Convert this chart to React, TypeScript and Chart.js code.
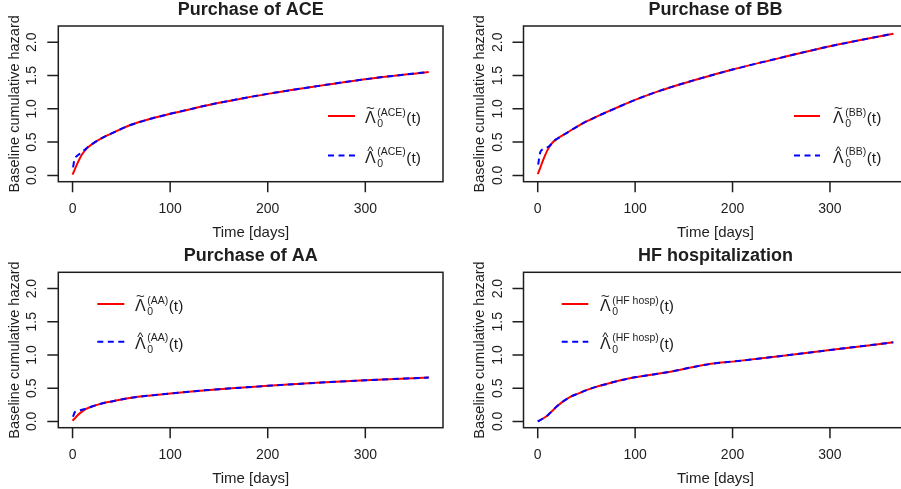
import React, { useEffect, useRef } from "react";
import { Chart, registerables } from "chart.js";

Chart.register(...registerables);

// ---------- data ----------
const xTickValues = [0, 100, 200, 300];
const yTickValues = [0, 0.5, 1.0, 1.5, 2.0];
const yTickLabels = ["0.0", "0.5", "1.0", "1.5", "2.0"];

const tildeTimes = [0, 2, 5, 10, 15, 20, 30, 40, 50, 60, 80, 100, 125, 150, 175, 200, 250, 300, 365];
const hatTimes = [0.5, 2, 3, 5, 8, 12, 16, 20, 30, 40, 50, 60, 80, 100, 125, 150, 175, 200, 250, 300, 365];

const aceTilde = [0.01, 0.08, 0.18, 0.32, 0.41, 0.47, 0.56, 0.63, 0.70, 0.76, 0.85, 0.925, 1.01, 1.09, 1.16, 1.225, 1.34, 1.445, 1.555];
const aceHat = [0.12, 0.24, 0.27, 0.30, 0.33, 0.38, 0.43, 0.47, 0.56, 0.63, 0.70, 0.76, 0.85, 0.925, 1.01, 1.09, 1.16, 1.225, 1.34, 1.445, 1.555];

const bbTilde = [0.02, 0.09, 0.21, 0.38, 0.49, 0.55, 0.64, 0.73, 0.81, 0.88, 1.01, 1.135, 1.27, 1.385, 1.49, 1.59, 1.77, 1.94, 2.13];
const bbHat = [0.16, 0.31, 0.36, 0.39, 0.41, 0.44, 0.51, 0.55, 0.64, 0.73, 0.81, 0.88, 1.01, 1.135, 1.27, 1.385, 1.49, 1.59, 1.77, 1.94, 2.13];

const aaTilde = [0.01, 0.04, 0.09, 0.15, 0.195, 0.225, 0.27, 0.30, 0.33, 0.355, 0.39, 0.42, 0.455, 0.485, 0.51, 0.535, 0.58, 0.62, 0.66];
const aaHat = [0.07, 0.13, 0.15, 0.16, 0.17, 0.185, 0.205, 0.225, 0.27, 0.30, 0.33, 0.355, 0.39, 0.42, 0.455, 0.485, 0.51, 0.535, 0.58, 0.62, 0.66];

const hfTimes = [0, 5, 10, 15, 20, 25, 30, 35, 40, 50, 60, 70, 80, 90, 100, 120, 140, 160, 180, 200, 250, 300, 365];
const hfTilde = [0.0, 0.04, 0.09, 0.16, 0.23, 0.29, 0.34, 0.38, 0.41, 0.47, 0.52, 0.56, 0.60, 0.635, 0.665, 0.71, 0.76, 0.82, 0.87, 0.90, 0.985, 1.075, 1.19];
const hfHat = [0.0, 0.04, 0.09, 0.16, 0.23, 0.29, 0.34, 0.38, 0.41, 0.47, 0.52, 0.56, 0.60, 0.635, 0.665, 0.71, 0.76, 0.82, 0.87, 0.90, 0.985, 1.075, 1.19];

const titles = ["Purchase of ACE", "Purchase of BB", "Purchase of AA", "HF hospitalization"];
const supLabels = ["(ACE)", "(BB)", "(AA)", "(HF hosp)"];
const xAxisTitle = "Time [days]";
const yAxisTitle = "Baseline cumulative hazard";

// ---------- layout / style ----------
const FONT = '"Liberation Sans", Arial, Helvetica, sans-serif';
const INK = "#1e1e1e";
const CANVAS_W = 930;
const CANVAS_H = 489;

type Box = { l: number; r: number; t: number; b: number };
type LegendLayout = { side: "left" | "right"; lineStart: number; lineEnd: number; textX: number; rows: number[] };
type Panel = {
  title: string;
  sup: string;
  tT: number[];
  tY: number[];
  hT: number[];
  hY: number[];
  box: Box;
  legend: LegendLayout;
};

const panels: Panel[] = [
  {
    title: titles[0], sup: supLabels[0], tT: tildeTimes, tY: aceTilde, hT: hatTimes, hY: aceHat,
    box: { l: 58.3, r: 443, t: 26, b: 181.7 },
    legend: { side: "right", lineStart: -115, lineEnd: -88, textX: -78, rows: [90, 129.5] },
  },
  {
    title: titles[1], sup: supLabels[1], tT: tildeTimes, tY: bbTilde, hT: hatTimes, hY: bbHat,
    box: { l: 523.5, r: 907.5, t: 26, b: 181.7 },
    legend: { side: "right", lineStart: -113.5, lineEnd: -87.5, textX: -74.5, rows: [90, 129.5] },
  },
  {
    title: titles[2], sup: supLabels[2], tT: tildeTimes, tY: aaTilde, hT: hatTimes, hY: aaHat,
    box: { l: 58.3, r: 443, t: 272.3, b: 427.7 },
    legend: { side: "left", lineStart: 39, lineEnd: 66, textX: 76.7, rows: [31.7, 69.4] },
  },
  {
    title: titles[3], sup: supLabels[3], tT: hfTimes, tY: hfTilde, hT: hfTimes, hY: hfHat,
    box: { l: 523.5, r: 907.5, t: 272.3, b: 427.7 },
    legend: { side: "left", lineStart: 38.2, lineEnd: 64.8, textX: 76.5, rows: [31.7, 69.4] },
  },
];

const RED = "#ff0000";
const BLUE = "#0000ff";
const DASH = [6, 4.5];

function drawLegendEntry(
  ctx: CanvasRenderingContext2D,
  x0: number, x1: number, y: number, color: string, dash: number[],
  tx: number, accent: "tilde" | "hat", sup: string
) {
  ctx.save();
  ctx.strokeStyle = color;
  ctx.lineWidth = 2;
  ctx.setLineDash(dash);
  ctx.beginPath();
  ctx.moveTo(x0, y);
  ctx.lineTo(x1, y);
  ctx.stroke();
  ctx.setLineDash([]);
  ctx.fillStyle = INK;
  ctx.textAlign = "left";
  ctx.textBaseline = "alphabetic";
  const base = y + 7;
  ctx.font = `16px ${FONT}`;
  ctx.fillText("Λ", tx, base);
  const wL = ctx.measureText("Λ").width;
  // accent
  ctx.textAlign = "center";
  if (accent === "tilde") {
    ctx.font = `15px ${FONT}`;
    ctx.fillText("~", tx + wL / 2, base - 10.5);
  } else {
    ctx.font = `13px ${FONT}`;
    ctx.fillText("^", tx + wL / 2, base - 7.5);
  }
  ctx.textAlign = "left";
  ctx.font = `10.5px ${FONT}`;
  const sx = tx + wL + 1.5;
  ctx.fillText(sup, sx, base - 7.5);
  ctx.fillText("0", sx, base + 4);
  const wSup = Math.max(ctx.measureText(sup).width, ctx.measureText("0").width);
  ctx.font = `15.5px ${FONT}`;
  ctx.fillText("(t)", sx + wSup + 0.5, base);
  ctx.restore();
}

function drawFrame(chart: any, p: Panel) {
  const ctx: CanvasRenderingContext2D = chart.ctx;
  const a = chart.chartArea;
  const xs = chart.scales.x;
  const ys = chart.scales.y;
  ctx.save();
  ctx.strokeStyle = INK;
  ctx.lineWidth = 1.5;
  ctx.strokeRect(a.left, a.top, a.right - a.left, a.bottom - a.top);

  ctx.beginPath();
  xTickValues.forEach((v) => {
    const px = xs.getPixelForValue(v);
    ctx.moveTo(px, a.bottom);
    ctx.lineTo(px, a.bottom + 10.5);
  });
  yTickValues.forEach((v) => {
    const py = ys.getPixelForValue(v);
    ctx.moveTo(a.left, py);
    ctx.lineTo(a.left - 11, py);
  });
  ctx.stroke();

  ctx.fillStyle = INK;
  ctx.font = `14px ${FONT}`;
  ctx.textAlign = "center";
  ctx.textBaseline = "alphabetic";
  xTickValues.forEach((v) => {
    ctx.fillText(String(v), xs.getPixelForValue(v), a.bottom + 31.5);
  });
  yTickValues.forEach((v, i) => {
    ctx.save();
    ctx.translate(a.left - 22, ys.getPixelForValue(v));
    ctx.rotate(-Math.PI / 2);
    ctx.fillText(yTickLabels[i], 0, 0);
    ctx.restore();
  });

  const cx = (a.left + a.right) / 2;
  const cy = (a.top + a.bottom) / 2;
  ctx.font = `15px ${FONT}`;
  ctx.fillText(xAxisTitle, cx, a.bottom + 55);
  ctx.save();
  ctx.translate(a.left - 39.5, cy);
  ctx.rotate(-Math.PI / 2);
  ctx.font = `14.5px ${FONT}`;
  ctx.fillText(yAxisTitle, 0, 0);
  ctx.restore();

  ctx.font = `bold 18px ${FONT}`;
  ctx.fillText(p.title, cx, a.top - 11);
  ctx.restore();

  const lg = p.legend;
  const ref = lg.side === "right" ? a.right : a.left;
  drawLegendEntry(ctx, ref + lg.lineStart, ref + lg.lineEnd, a.top + lg.rows[0], RED, [], ref + lg.textX, "tilde", p.sup);
  drawLegendEntry(ctx, ref + lg.lineStart, ref + lg.lineEnd, a.top + lg.rows[1], BLUE, DASH, ref + lg.textX, "hat", p.sup);
}

function PanelChart({ p }: { p: Panel }) {
  const ref = useRef<HTMLCanvasElement | null>(null);
  useEffect(() => {
    if (!ref.current) return;
    const chart = new Chart(ref.current, {
      type: "line",
      data: {
        datasets: [
          {
            label: "tilde",
            data: p.tT.map((t, i) => ({ x: t, y: p.tY[i] })),
            borderColor: RED,
            borderWidth: 2,
            pointRadius: 0,
            cubicInterpolationMode: "monotone",
            fill: false,
            order: 1,
          },
          {
            label: "hat",
            data: p.hT.map((t, i) => ({ x: t, y: p.hY[i] })),
            borderColor: BLUE,
            borderWidth: 2,
            borderDash: DASH,
            pointRadius: 0,
            cubicInterpolationMode: "monotone",
            fill: false,
            order: 0,
          },
        ],
      },
      options: {
        animation: false,
        responsive: false,
        devicePixelRatio: 1,
        events: [],
        layout: {
          padding: {
            left: p.box.l,
            top: p.box.t,
            right: CANVAS_W - p.box.r,
            bottom: CANVAS_H - p.box.b,
          },
        },
        scales: {
          x: { type: "linear", display: false, min: -14.6, max: 379.6 },
          y: { type: "linear", display: false, min: -0.095, max: 2.245 },
        },
        plugins: {
          legend: { display: false },
          tooltip: { enabled: false },
        },
      },
      plugins: [
        {
          id: "rframe",
          afterDraw: (c: any) => drawFrame(c, p),
        },
      ],
    } as any);
    return () => chart.destroy();
  }, [p]);
  return (
    <canvas
      ref={ref}
      width={CANVAS_W}
      height={CANVAS_H}
      style={{ position: "absolute", left: 0, top: 0, width: CANVAS_W, height: CANVAS_H }}
    />
  );
}

export default function App() {
  return (
    <div
      style={{
        position: "absolute",
        left: 0,
        top: 0,
        width: 901,
        height: 489,
        overflow: "hidden",
        background: "#ffffff",
      }}
    >
      {panels.map((p, i) => (
        <PanelChart key={i} p={p} />
      ))}
    </div>
  );
}
